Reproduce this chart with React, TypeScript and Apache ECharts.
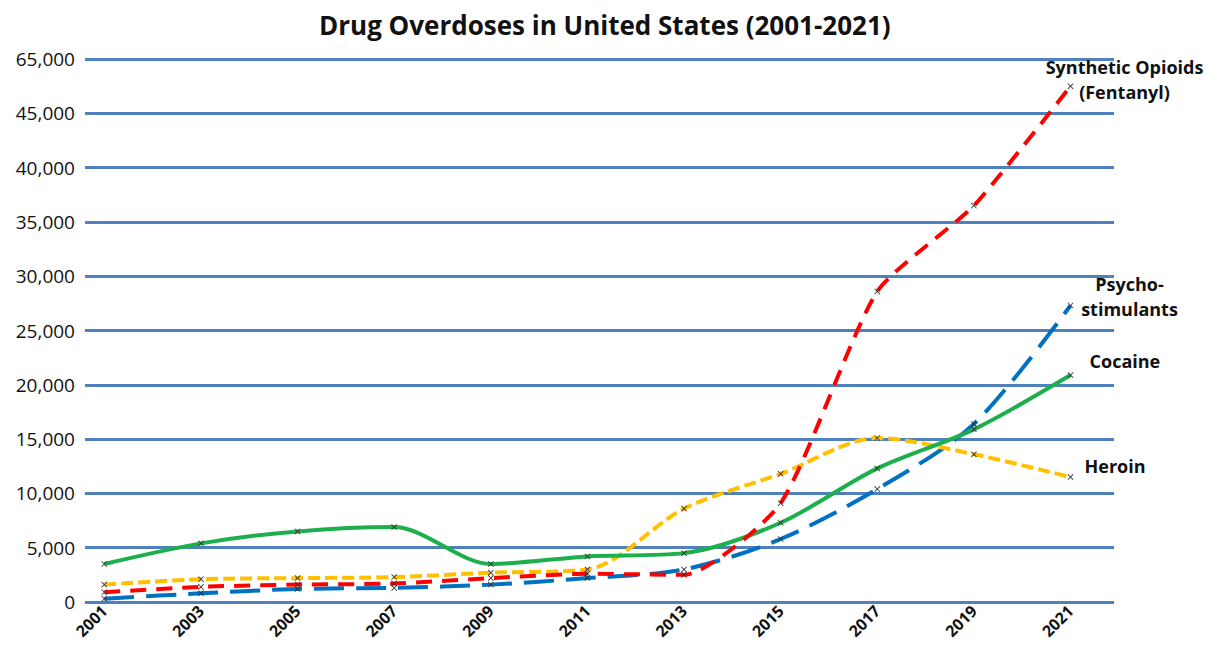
import React, { useEffect, useRef } from "react";
import * as echarts from "echarts";

const years = [2001, 2003, 2005, 2007, 2009, 2011, 2013, 2015, 2017, 2019, 2021];
const cocaine = [3500, 5400, 6500, 6900, 3500, 4200, 4500, 7300, 12300, 15900, 20900];
const heroin = [1600, 2100, 2200, 2300, 2700, 3000, 8600, 11800, 15100, 13600, 11500];
const synthetic = [900, 1400, 1600, 1700, 2200, 2600, 2500, 9100, 28600, 36500, 47500];
const psycho = [300, 800, 1200, 1300, 1600, 2200, 3000, 5800, 10400, 16400, 27300];
// the top gridline of the picture is labelled 65,000 (broken axis)
const yTickLabels: Record<number, string> = { 50000: "65,000" };

const FONT = "'Open Sans', 'Noto Sans', sans-serif";
const CROSS = "path://M0,1L1,0L5,4L9,0L10,1L6,5L10,9L9,10L5,6L1,10L0,9L4,5Z";

function pairs(vals: number[]) {
  return years.map((y, i) => [y, vals[i]]);
}

function makeSeries(name: string, vals: number[], color: string, type: any, label: string, lab: any, extra: any = {}) {
  return {
    name,
    type: "line",
    data: pairs(vals),
    smooth: 0.3,
    symbol: CROSS,
    symbolSize: 6,
    showSymbol: true,
    itemStyle: { color: "#333" },
    lineStyle: { color, width: 4, type },
    endLabel: {
      show: true,
      formatter: label,
      fontFamily: FONT,
      fontSize: 18,
      fontWeight: "bold",
      color: "#111",
      lineHeight: 25,
      ...lab,
    },
    z: 3,
    ...extra,
  };
}

export default function App() {
  const ref = useRef<HTMLDivElement>(null);
  useEffect(() => {
    document.body.style.margin = "0";
    const chart = echarts.init(ref.current!, null, { renderer: "svg" });
    chart.setOption({
      animation: false,
      backgroundColor: "#fff",
      title: {
        text: "Drug Overdoses in United States (2001-2021)",
        left: 314,
        top: 7,
        textStyle: { fontFamily: FONT, fontSize: 26, fontWeight: "bold", color: "#111" },
      },
      grid: { left: 85, right: 112, top: 59, bottom: 43 },
      xAxis: {
        type: "value",
        min: 2000.6,
        max: 2021.9,
        axisLine: { show: false },
        axisTick: { show: false },
        splitLine: { show: false },
        axisLabel: {
          customValues: years,
          rotate: 45,
          margin: 6,
          fontFamily: FONT,
          fontSize: 16,
          fontWeight: "bold",
          color: "#111",
          formatter: (v: number) => String(v),
        },
      },
      yAxis: {
        type: "value",
        min: 0,
        max: 50000,
        interval: 5000,
        axisLine: { show: false },
        axisTick: { show: false },
        splitLine: { lineStyle: { color: "#4F81BD", width: 3 } },
        axisLabel: {
          margin: 10,
          fontFamily: FONT,
          fontSize: 19,
          color: "#111",
          formatter: (v: number) => yTickLabels[v] ?? v.toLocaleString("en-US"),
        },
      },
      series: [
        makeSeries("Psychostimulants", psycho, "#0070C0", [30, 12], "Psycho-\nstimulants", { align: "center", offset: [51, -9] }),
        makeSeries("Heroin", heroin, "#FFC000", [12, 5], "Heroin", { offset: [6, -11] }),
        makeSeries("Cocaine", cocaine, "#1DAF4C", "solid", "Cocaine", { offset: [11, -14] }),
        makeSeries("Synthetic Opioids", synthetic, "#FF0000", [16, 10], "Synthetic Opioids\n(Fentanyl)", { align: "center", offset: [46, -7] }, { smooth: 0.2 }),
      ],
    });
    return () => chart.dispose();
  }, []);
  return <div ref={ref} style={{ width: 1226, height: 645 }} />;
}
